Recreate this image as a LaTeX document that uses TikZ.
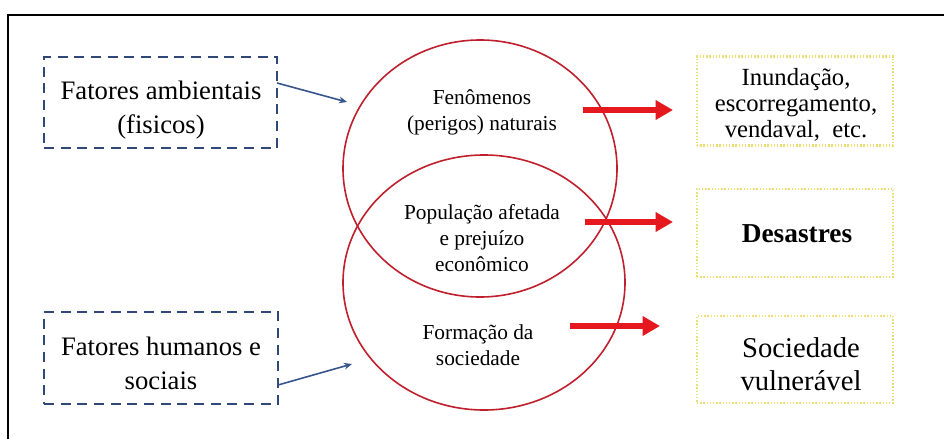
\documentclass[tikz,border=0pt]{standalone}
\usepackage{fontspec}
\setmainfont{Liberation Serif}
\usetikzlibrary{arrows.meta,shapes.geometric}
\definecolor{navyd}{RGB}{47,72,120}
\definecolor{circred}{RGB}{192,32,45}
\definecolor{arrred}{RGB}{228,24,30}
\definecolor{bluearr}{RGB}{55,85,140}
\definecolor{yeldot}{RGB}{236,222,115}
\tikzset{
  leftbox/.style={draw=navyd, line width=2pt, dash pattern=on 7.5pt off 5pt,
    rectangle, inner sep=0pt},
  lefttext/.style={align=center, inner sep=0pt, font=\fontsize{20}{26}\selectfont},
  rightbox/.style={draw=yeldot, line width=2.2pt, dash pattern=on 1pt off 1.4pt,
    rectangle, inner sep=0pt, minimum width=147pt},
  righttext/.style={align=center, inner sep=0pt},
  venn/.style={draw=circred, line width=1.2pt, ellipse, inner sep=0pt, outer sep=0pt},
  venntext/.style={align=center, font=\fontsize{16}{19.5}\selectfont},
  redarrow/.style={draw=arrred, line width=3.8pt, -{Triangle[length=13pt,width=14pt]}},
  bluearrow/.style={draw=bluearr, line width=1.2pt, -{Stealth[length=6pt,width=5pt]}},
}
\begin{document}
\begin{tikzpicture}[x=0.75pt,y=-0.75pt]
\useasboundingbox (0,0) rectangle (944,439);
\fill[white] (0,0) rectangle (944,439);
% frame
\draw[line width=0.9pt] (8,439) -- (8,15) -- (944,15);
% left boxes
\node[leftbox, minimum width=174.75pt, minimum height=68.25pt] (b1) at (160.5,102.5) {};
\node[lefttext] (b1t) at (161,110) {Fatores ambientais\\(fisicos)};
\node[leftbox, minimum width=175.5pt, minimum height=69pt] (b2) at (161,358) {};
\node[lefttext] (b2t) at (161,363.5) {Fatores humanos e\\sociais};
% venn
\node[venn, minimum width=205.5pt, minimum height=192.75pt] (c1) at (480,168.5) {};
\node[venn, minimum width=211.5pt, minimum height=191.25pt] (c2) at (484,282.5) {};
\node[venntext] (t1) at (482,112) {Fenômenos\\(perigos) naturais};
\node[venntext] (t2) at (482,238) {População afetada\\e prejuízo\\econômico};
\node[venntext] (t3) at (478,345) {Formação da\\sociedade};
% right boxes
\node[rightbox, minimum height=66.75pt] (ra) at (795,101) {};
\node[righttext, font=\fontsize{18.5}{19.5}\selectfont] (rat) at (796,105) {Inundação,\\escorregamento,\\vendaval,\ \ etc.};
\node[rightbox, minimum height=66pt] (rb) at (795,233) {};
\node[righttext, font=\bfseries\fontsize{20.5}{24}\selectfont] (rbt) at (797,234) {Desastres};
\node[rightbox, minimum height=65.25pt] (rc) at (795,359.5) {};
\node[righttext, font=\fontsize{21.5}{24.5}\selectfont] (rct) at (801,364) {Sociedade\\vulnerável};
% arrow coordinates
\coordinate (a1s) at (583,110);
\coordinate (a1e) at (673,110);
\coordinate (a2s) at (585,222);
\coordinate (a2e) at (673,222);
\coordinate (a3s) at (570,326);
\coordinate (a3e) at (660,326);
\coordinate (u1s) at (277,83);
\coordinate (u1e) at (347,102);
\coordinate (u2s) at (278,385);
\coordinate (u2e) at (352,364);
\draw[redarrow] (a1s) -- (a1e);
\draw[redarrow] (a2s) -- (a2e);
\draw[redarrow] (a3s) -- (a3e);
\draw[bluearrow] (u1s) -- (u1e);
\draw[bluearrow] (u2s) -- (u2e);
\end{tikzpicture}
\end{document}
